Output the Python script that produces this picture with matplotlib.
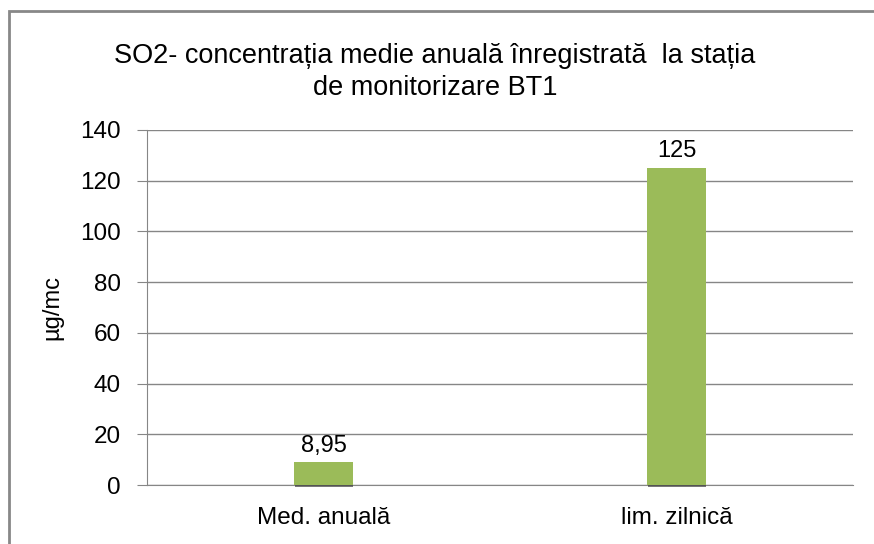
import matplotlib
matplotlib.use("Agg")
import matplotlib.pyplot as plt
import matplotlib.patheffects as pe
from matplotlib.patches import Rectangle

# data
categories = ["Med. anuală", "lim. zilnică"]
values = [8.95, 125]
value_labels = ["8,95", "125"]
yticks = [0, 20, 40, 60, 80, 100, 120, 140]

plt.rcParams['font.family'] = ['Liberation Sans', 'DejaVu Sans']

W, H = 874, 544
fig = plt.figure(figsize=(W / 100, H / 100), dpi=100)
ax = fig.add_axes([147 / W, 1 - 485 / H, (853 - 147) / W, (485 - 130) / H])

x = list(range(len(categories)))
bars = ax.bar(x, values, width=0.165, color="#9BBB59", zorder=3)
for b in bars:
    b.set_clip_on(False)
    b.set_path_effects([pe.SimplePatchShadow(offset=(0.5, -1.5), shadow_rgbFace="#404040", alpha=0.7),
                        pe.Normal()])

for xi, v, lab in zip(x, values, value_labels):
    ax.annotate(lab, (xi, v), xytext=(0, 4), textcoords="offset points",
                ha="center", va="bottom", fontsize=17)

ax.set_xlim(-0.5, 1.5)
ax.set_ylim(0, 140)
ax.set_yticks(yticks)
ax.set_xticks(x)
ax.set_xticklabels(categories)
ax.tick_params(axis="y", labelsize=17.5, length=7, color="#868686", pad=12)
ax.tick_params(axis="x", labelsize=17.5, length=0, pad=16)
ax.yaxis.grid(True, color="#868686", linewidth=1, zorder=0)
ax.set_axisbelow(True)
for s in ["top", "right"]:
    ax.spines[s].set_visible(False)
ax.spines["left"].set_color("#868686")
ax.spines["bottom"].set_color("#868686")
ax.set_ylabel("µg/mc", fontsize=17, labelpad=12)

fig.text(435 / W, 1 - 72 / H, "SO2- concentrația medie anuală înregistrată  la stația\nde monitorizare BT1",
         ha="center", va="center", fontsize=19.5, linespacing=1.3)

fig.add_artist(Rectangle((9 / W, -0.1), 1.2, 1 - 11 / H + 0.1, transform=fig.transFigure,
                         fill=False, edgecolor="#888888", linewidth=2))

fig.savefig("out.png", dpi=100)
